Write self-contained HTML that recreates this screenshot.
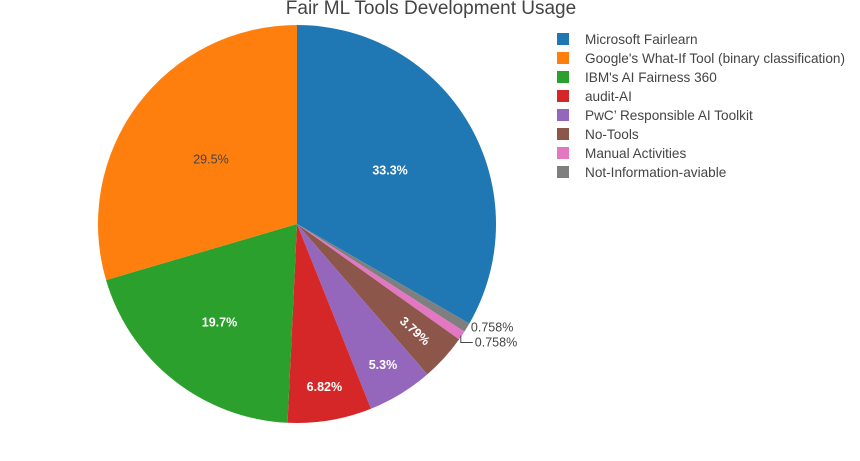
<!DOCTYPE html>
<html><head><meta charset="utf-8">
<style>
html,body{margin:0;padding:0;background:#fff;}
svg{display:block;font-family:"Liberation Sans",Arial,sans-serif;}
</style></head>
<body>
<svg id="chart" width="860" height="461" viewBox="0 0 860 461" xmlns="http://www.w3.org/2000/svg">
<text x="431" y="14" text-anchor="middle" font-size="19" fill="#444">Fair ML Tools Development Usage</text>
<g id="slices"></g>
<g id="labels"></g>
<g id="legend"></g>
</svg>
<script>
const categories = ["Microsoft Fairlearn","Google's What-If Tool (binary classification)","IBM's AI Fairness 360","audit-AI","PwC\u2019 Responsible AI Toolkit","No-Tools","Manual Activities","Not-Information-aviable"];
const counts = [44, 39, 26, 9, 7, 5, 1, 1];
const percentLabels = ["33.3%","29.5%","19.7%","6.82%","5.3%","3.79%","0.758%","0.758%"];
const colors = ["#1f77b4","#ff7f0e","#2ca02c","#d62728","#9467bd","#8c564b","#e377c2","#7f7f7f"];

const NS = "http://www.w3.org/2000/svg";
const cx = 297, cy = 224, R = 199;
const total = counts.reduce((a,b)=>a+b,0);
const order = [0];
for (let i = counts.length-1; i >= 1; i--) order.push(i);
function pt(deg, r){ const a = deg*Math.PI/180; return [cx + r*Math.sin(a), cy - r*Math.cos(a)]; }
const sg = document.getElementById('slices');
const lg = document.getElementById('labels');
let ang = 0;
let outsideCount = 0;
order.forEach(i => {
  const frac = counts[i]/total;
  const span = frac*360;
  const a0 = ang, a1 = ang + span; ang = a1;
  const p0 = pt(a0, R), p1 = pt(a1, R);
  const large = span > 180 ? 1 : 0;
  const path = document.createElementNS(NS,'path');
  path.setAttribute('d', `M${cx},${cy} L${p0[0]},${p0[1]} A${R},${R} 0 ${large} 1 ${p1[0]},${p1[1]} Z`);
  path.setAttribute('fill', colors[i]);
  
  
  sg.appendChild(path);
  const mid = (a0+a1)/2;
  const t = document.createElementNS(NS,'text');
  t.setAttribute('font-size','12.5');
  t.textContent = percentLabels[i];
  if (frac < 0.02) {
    const e = pt(mid, R);
    const ly = outsideCount === 0 ? e[1] + 4 : e[1] + 11;
    const lx = outsideCount === 0 ? e[0] + 4 : e[0] + 13;
    if (outsideCount > 0) {
      const ln = document.createElementNS(NS,'polyline');
      ln.setAttribute('points', `${e[0]-1},${e[1]} ${e[0]-1},${ly-4} ${lx-2},${ly-4}`);
      ln.setAttribute('fill','none');
      ln.setAttribute('stroke','#444');
      ln.setAttribute('stroke-width','1');
      
      
      lg.appendChild(ln);
    }
    t.setAttribute('x', lx); t.setAttribute('y', ly);
    t.setAttribute('fill','#444');
    outsideCount++;
  } else {
    const f = frac > 0.25 ? 0.54 : frac > 0.15 ? 0.63 : frac > 0.045 ? 0.83 : 0.8;
    const p = pt(mid, R*f);
    t.setAttribute('x', p[0]); t.setAttribute('y', p[1]);
    t.setAttribute('text-anchor','middle');
    t.setAttribute('dominant-baseline','central');
    const dark = colors[i] === "#ff7f0e";
    t.setAttribute('fill', dark ? '#444' : '#fff');
    if (!dark) t.setAttribute('font-weight','bold');
    if (frac < 0.045) t.setAttribute('transform', `rotate(${mid-90} ${p[0]} ${p[1]})`);
  }
  
  
  lg.appendChild(t);
});
const leg = document.getElementById('legend');
categories.forEach((c,i) => {
  const y = 39 + i*19;
  const g = document.createElementNS(NS,'g');
  
  
  const r = document.createElementNS(NS,'rect');
  r.setAttribute('x',557); r.setAttribute('y',y-6); r.setAttribute('width',12); r.setAttribute('height',12);
  r.setAttribute('fill',colors[i]);
  
  
  const t = document.createElementNS(NS,'text');
  t.setAttribute('x',585); t.setAttribute('y',y+5); t.setAttribute('font-size','13.6'); t.setAttribute('fill','#444');
  t.textContent = c;
  
  
  g.appendChild(r); g.appendChild(t); leg.appendChild(g);
});
</script>
</body></html>
